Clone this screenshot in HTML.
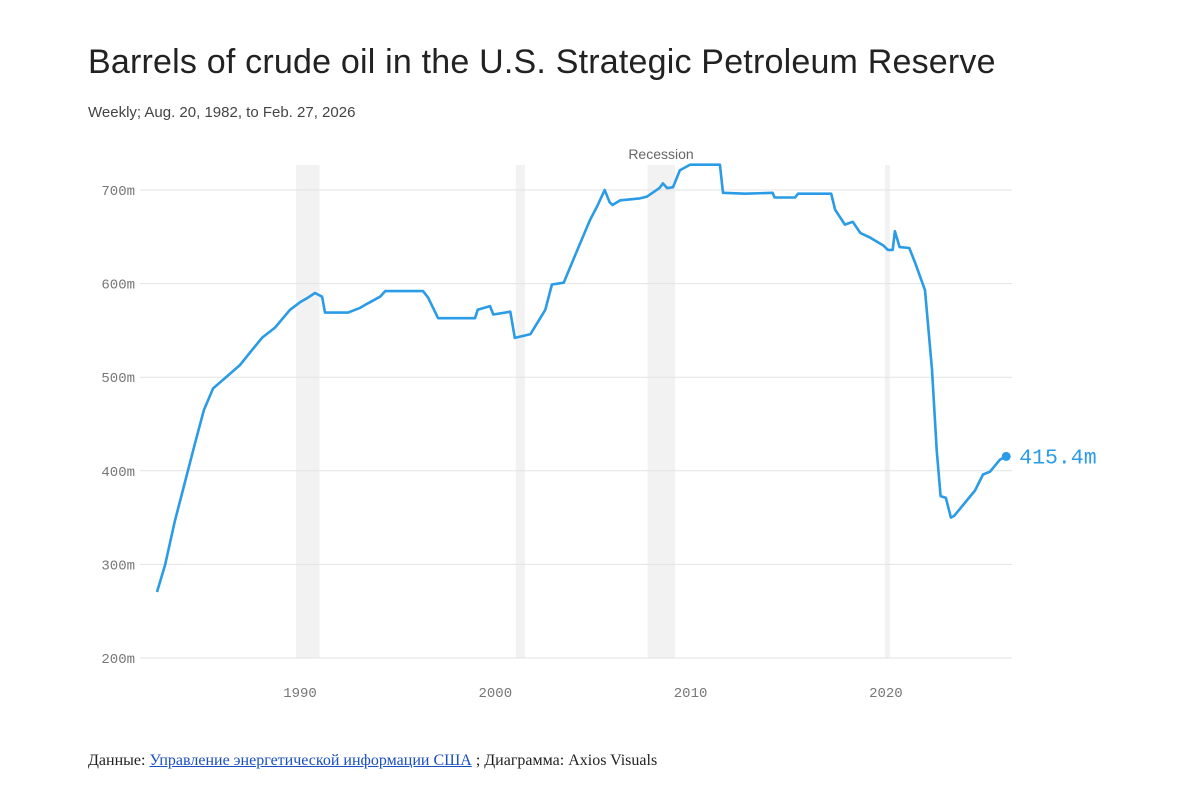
<!DOCTYPE html>
<html><head><meta charset="utf-8"><style>
body{margin:0;background:#fff;width:1200px;height:807px;overflow:hidden;font-family:"Liberation Sans",sans-serif}
#title{position:absolute;left:88px;top:43px;font-size:34px;color:#222;letter-spacing:0.2px}
#sub{position:absolute;left:88px;top:104px;font-size:15px;color:#444}
#foot{position:absolute;left:88px;top:752px;font-family:"Liberation Serif","Noto Serif CJK SC",serif;font-size:16px;color:#222}
#foot a{color:#1a4fc0;text-decoration:underline}
svg{position:absolute;left:0;top:0}
</style></head><body>
<div id="title">Barrels of crude oil in the U.S. Strategic Petroleum Reserve</div>
<div id="sub">Weekly; Aug. 20, 1982, to Feb. 27, 2026</div>
<svg id="chart" width="1200" height="807"></svg>
<div id="foot">Данные: <a>Управление энергетической информации США</a> ; Диаграмма: Axios Visuals</div>
<script>
const years=[1982.68,1983.09,1983.6,1984.0,1984.27,1984.67,1985.08,1985.55,1986.16,1986.93,1987.54,1988.05,1988.72,1989.49,1990,1990.41,1990.77,1991.13,1991.28,1992.46,1993.07,1993.48,1994.1,1994.36,1996.3,1996.56,1997.07,1998.96,1999.1,1999.73,1999.9,2000.77,2001.0,2001.8,2002.56,2002.9,2003.5,2004.1,2004.85,2005.2,2005.6,2005.85,2006.0,2006.4,2007.4,2007.77,2008.4,2008.58,2008.8,2009.1,2009.45,2009.97,2011.5,2011.66,2012.8,2014.2,2014.3,2015.35,2015.5,2017.2,2017.4,2017.9,2018.3,2018.7,2019.2,2019.85,2020.1,2020.35,2020.46,2020.7,2021.2,2021.5,2022.0,2022.36,2022.6,2022.8,2023.07,2023.33,2023.5,2024.56,2024.97,2025.33,2025.84,2026.16];
const values=[270.5,299,347,379,401,433,465,488,499,513,529,542,553,572,580,585,590,586,569,569,574,579,586,592,592,585,563,563,572,576,567,570,542,546,572,599,601,631,668,682,700,687,684,689,691,693,702,707,702,703,721,727,727,697,696,697,692,692,696,696,679,663,666,654,649,641,636,636,656,639,638,622,593,508,422,373,371,350,352,379,396,399,412,415.4];
const yTicks=[200,300,400,500,600,700];
const xTicks=[1990,2000,2010,2020];
const recessions=[[1989.8,1991.0],[2001.05,2001.52],[2007.8,2009.2],[2019.95,2020.2]];
const lastLabel="415.4m";
const NS="http://www.w3.org/2000/svg";
const svg=document.getElementById('chart');
const X=y=>300+(y-1990)*19.53;
const Y=v=>658-(v-200)*0.936;
function mk(t,a){const e=document.createElementNS(NS,t);for(const k in a)e.setAttribute(k,a[k]);svg.appendChild(e);return e;}
recessions.forEach(r=>{const e=mk('rect',{x:X(r[0]),y:165,width:X(r[1])-X(r[0]),height:493,fill:'#f2f2f2'});

});
const rl=mk('text',{x:661,y:159,'text-anchor':'middle','font-size':14,fill:'#666','font-family':'Liberation Sans, sans-serif'});rl.textContent='Recession';


yTicks.forEach(v=>{const l=mk('line',{x1:140,x2:1012,y1:Y(v),y2:Y(v),stroke:'#e3e3e3','stroke-width':1});


const t=mk('text',{x:135,y:Y(v)+5,'text-anchor':'end','font-size':14,fill:'#777','font-family':'Liberation Mono, monospace'});t.textContent=v+'m';

});
xTicks.forEach(v=>{const t=mk('text',{x:X(v),y:697,'text-anchor':'middle','font-size':14,fill:'#777','font-family':'Liberation Mono, monospace'});t.textContent=v;

});
const p=mk('path',{d:years.map((y,i)=>(i?'L':'M')+X(y).toFixed(1)+','+Y(values[i]).toFixed(1)).join(''),fill:'none',stroke:'#2a9be6','stroke-width':2.6,'stroke-linejoin':'round'});


const n=years.length-1;
const d=mk('circle',{cx:X(years[n]),cy:Y(values[n]),r:4.5,fill:'#2a9be6'});


const lt=mk('text',{x:X(years[n])+13,y:Y(values[n])+7,'font-size':21.5,fill:'#2a9be6','font-family':'Liberation Mono, monospace'});lt.textContent=lastLabel;


</script>
</body></html>
